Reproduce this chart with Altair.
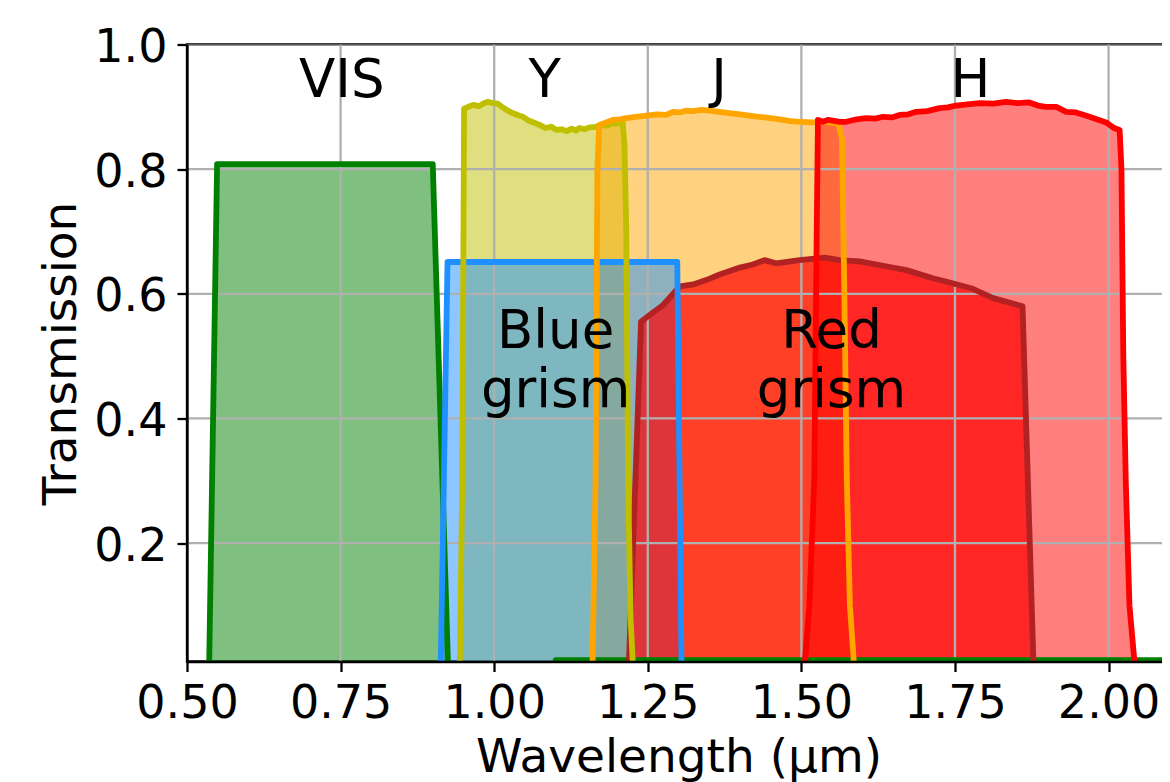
import altair as alt
import pandas as pd

# ---------------- data ----------------
vis_w = [0.536, 0.549, 0.900, 0.925, 1.099, 1.100, 2.100]
vis_t = [0.000, 0.808, 0.808, 0.000, 0.000, 0.012, 0.012]

y_w = [0.944, 0.948, 0.951, 0.958, 0.966, 0.975, 0.984, 0.990, 0.998, 1.006, 1.014,
       1.020, 1.030, 1.040, 1.047, 1.056, 1.066, 1.074, 1.083, 1.093, 1.101, 1.110,
       1.118, 1.126, 1.133, 1.139, 1.147, 1.155, 1.166, 1.174, 1.183, 1.193, 1.201,
       1.209, 1.212, 1.215, 1.218, 1.222, 1.226]
y_t = [0.000, 0.300, 0.897, 0.900, 0.903, 0.901, 0.906, 0.908, 0.906, 0.905, 0.899,
       0.895, 0.890, 0.886, 0.884, 0.878, 0.874, 0.871, 0.866, 0.868, 0.863, 0.864,
       0.861, 0.865, 0.862, 0.866, 0.864, 0.867, 0.868, 0.871, 0.870, 0.874, 0.873,
       0.876, 0.840, 0.700, 0.300, 0.080, 0.000]

j_w = [1.160, 1.165, 1.168, 1.171, 1.180, 1.193, 1.205, 1.215, 1.230, 1.248, 1.265,
       1.280, 1.291, 1.302, 1.313, 1.323, 1.337, 1.351, 1.366, 1.383, 1.400, 1.421,
       1.440, 1.465, 1.482, 1.497, 1.519, 1.530, 1.545, 1.560, 1.566, 1.570, 1.574,
       1.579, 1.586]
j_t = [0.000, 0.300, 0.800, 0.871, 0.874, 0.879, 0.880, 0.882, 0.884, 0.886, 0.888,
       0.887, 0.892, 0.891, 0.894, 0.893, 0.895, 0.894, 0.892, 0.890, 0.888, 0.885,
       0.883, 0.880, 0.877, 0.876, 0.875, 0.876, 0.875, 0.874, 0.850, 0.600, 0.300,
       0.100, 0.000]

h_w = [1.505, 1.513, 1.521, 1.525, 1.527, 1.535, 1.543, 1.551, 1.562, 1.573, 1.590,
       1.606, 1.620, 1.633, 1.647, 1.660, 1.674, 1.687, 1.705, 1.725, 1.738, 1.752,
       1.770, 1.790, 1.812, 1.833, 1.852, 1.871, 1.885, 1.898, 1.915, 1.931, 1.947,
       1.969, 1.996, 2.009, 2.018, 2.021, 2.024, 2.028, 2.034, 2.043]
h_t = [0.000, 0.100, 0.300, 0.700, 0.879, 0.876, 0.879, 0.878, 0.876, 0.876, 0.880,
       0.882, 0.881, 0.884, 0.883, 0.887, 0.888, 0.892, 0.893, 0.898, 0.899, 0.902,
       0.904, 0.906, 0.905, 0.908, 0.906, 0.907, 0.902, 0.900, 0.900, 0.892, 0.891,
       0.884, 0.875, 0.866, 0.863, 0.800, 0.500, 0.300, 0.100, 0.000]

blue_w = [0.913, 0.924, 1.298, 1.305]
blue_t = [0.000, 0.651, 0.651, 0.000]

red_w = [1.219, 1.239, 1.253, 1.275, 1.302, 1.324, 1.345, 1.367, 1.400, 1.421, 1.440,
         1.459, 1.497, 1.538, 1.562, 1.595, 1.633, 1.671, 1.714, 1.746, 1.779, 1.812,
         1.860, 1.878]
red_t = [0.000, 0.555, 0.566, 0.582, 0.612, 0.615, 0.622, 0.631, 0.642, 0.647, 0.654,
         0.649, 0.654, 0.658, 0.654, 0.652, 0.645, 0.638, 0.625, 0.617, 0.608, 0.593,
         0.580, 0.000]

x_ticks = [0.50, 0.75, 1.00, 1.25, 1.50, 1.75, 2.00]
y_ticks = [0.2, 0.4, 0.6, 0.8, 1.0]

label_text = ["VIS", "Y", "J", "H", "Blue\ngrism", "Red\ngrism"]
label_x = [0.752, 1.082, 1.366, 1.775, 1.100, 1.549]
label_y = [0.916, 0.916, 0.916, 0.916, 0.513, 0.513]

# ---------------- styling ----------------
FONT = "DejaVu Sans"
XDOM = [0.5, 2.1]
YDOM = [0.01, 1.0]
LW = 5.8

# band: (w, t, line colour, fill colour, fill opacity)
bands = {
    "VIS": (vis_w, vis_t, "#008000", "#008000", 0.5),
    "Y": (y_w, y_t, "#bfbf00", "#bfbf00", 0.5),
    "J": (j_w, j_t, "#ffa500", "#ffa500", 0.5),
    "H": (h_w, h_t, "#ff0000", "#ff0000", 0.5),
    "Blue grism": (blue_w, blue_t, "#1e90ff", "#1e90ff", 0.5),
    "Red grism": (red_w, red_t, "#b22222", "#ff0000", 0.7),
}
fill_order = ["VIS", "Y", "J", "H", "Blue grism", "Red grism"]
line_order = ["VIS", "Red grism", "Blue grism", "Y", "J", "H"]

xscale = alt.Scale(domain=XDOM, nice=False, zero=False)
yscale = alt.Scale(domain=YDOM, nice=False, zero=False)

xaxis = alt.Axis(values=x_ticks, format=".2f", grid=False, labelFlush=False,
                 tickSize=10, tickWidth=2.3, tickColor="black",
                 domainColor="black", domainWidth=2.3,
                 labelFont=FONT, labelFontSize=46, labelColor="black", labelPadding=10,
                 title="Wavelength (μm)", titleFont=FONT, titleFontSize=47,
                 titleFontWeight="normal", titleColor="black",
                 titleX=491.5, titleY=110, titleBaseline="alphabetic", titleAlign="center",
                 zindex=1)
yaxis = alt.Axis(values=y_ticks, format=".1f", grid=False, labelFlush=False,
                 tickSize=10, tickWidth=2.3, tickColor="black",
                 domainColor="black", domainWidth=2.3,
                 labelFont=FONT, labelFontSize=46, labelColor="black", labelPadding=10,
                 labelOffset=3,
                 title="Transmission", titleFont=FONT, titleFontSize=47,
                 titleFontWeight="normal", titleColor="black",
                 titleX=-112, titleY=308.5, titleAngle=270, titleBaseline="alphabetic",
                 titleAlign="center", zindex=1)


def X(field):
    return alt.X(field, scale=xscale, axis=xaxis)


def Y(field):
    return alt.Y(field, scale=yscale, axis=yaxis)


def df_of(name):
    w, t = bands[name][0], bands[name][1]
    return pd.DataFrame({"w": w, "t": t, "base": [0.0] * len(w), "i": list(range(len(w)))})


layers = []
for name in fill_order:
    _, _, lc, fc, op = bands[name]
    layers.append(alt.Chart(df_of(name)).mark_area(clip=True, color=fc, opacity=op,
                                                    interpolate="linear")
                  .encode(x=X("w:Q"), y=Y("t:Q"), y2="base:Q"))

gx = pd.DataFrame({"g": x_ticks})
gy = pd.DataFrame({"g": y_ticks})
layers.append(alt.Chart(gx).mark_rule(color="#b0b0b0", strokeWidth=2.3, clip=True)
              .encode(x=X("g:Q")))
layers.append(alt.Chart(gy).mark_rule(color="#b0b0b0", strokeWidth=2.3, clip=True)
              .encode(y=Y("g:Q")))

for name in line_order:
    _, _, lc, fc, op = bands[name]
    layers.append(alt.Chart(df_of(name)).mark_line(clip=True, color=lc, strokeWidth=LW,
                                                    strokeJoin="round", strokeCap="square")
                  .encode(x=X("w:Q"), y=Y("t:Q"), order=alt.Order("i:Q")))

lab = pd.DataFrame({"text": label_text, "x": label_x, "y": label_y})
layers.append(alt.Chart(lab).mark_text(font=FONT, fontSize=53, color="black", align="center",
                                       baseline="alphabetic", lineBreak="\n", lineHeight=58.7)
              .encode(x=X("x:Q"), y=Y("y:Q"), text="text:N"))

chart = alt.layer(*layers).properties(
    width=983, height=617,
    autosize=alt.AutoSizeParams(type="none"),
    padding={"left": 179, "top": 36.5, "right": -8, "bottom": 120},
    background="white",
).configure_view(stroke="black", strokeWidth=2.3)

chart.save("out.html", embed_options={"renderer": "svg", "actions": False})
